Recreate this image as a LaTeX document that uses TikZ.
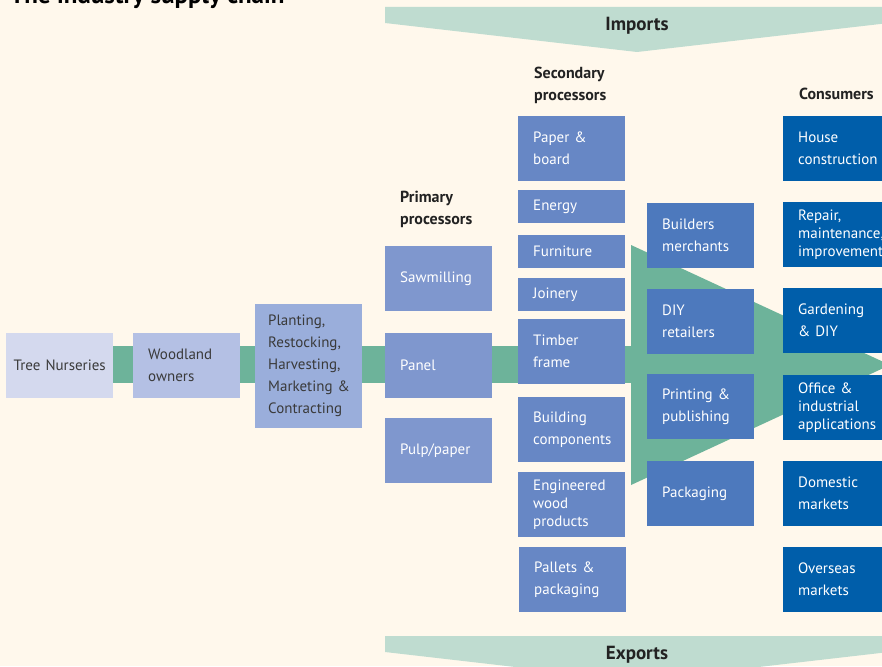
\documentclass[tikz,border=0pt]{standalone}
\usepackage{fontspec}
\setmainfont{PT Sans}
\usepackage{tikz}
\usetikzlibrary{positioning}
\definecolor{paper}{HTML}{FFF8EC}
\definecolor{flowgreen}{HTML}{6DB39A}
\definecolor{tradegreen}{HTML}{BFDCD0}
\definecolor{nurseryc}{HTML}{D4D9EE}
\definecolor{woodlandc}{HTML}{B4C0E4}
\definecolor{plantingc}{HTML}{9AAEDB}
\definecolor{primaryc}{HTML}{7F97CE}
\definecolor{secondaryc}{HTML}{6787C5}
\definecolor{merchantc}{HTML}{4D79BD}
\definecolor{consumerc}{HTML}{005EAA}
\definecolor{darktext}{HTML}{3A3A3A}
\definecolor{headtext}{HTML}{222222}
\tikzset{
	box/.style={rectangle,anchor=north west,text width=77pt,inner xsep=15pt,
		inner ysep=0pt,minimum height=65pt,align=left,text=white,
		font=\fontsize{15}{22}\selectfont},
	tight/.style={font=\fontsize{15}{18}\selectfont},
	thin box/.style={minimum height=33pt},
	nursery/.style={box,fill=nurseryc,text=darktext},
	woodland/.style={box,fill=woodlandc,text=darktext},
	planting/.style={box,fill=plantingc,text=darktext},
	primary/.style={box,fill=primaryc},
	secondary/.style={box,fill=secondaryc},
	merchant/.style={box,fill=merchantc},
	consumer/.style={box,fill=consumerc},
	head/.style={anchor=north west,inner sep=0pt,align=left,text=headtext,
		font=\bfseries\fontsize{16}{22}\selectfont},
	trade/.style={font=\bfseries\fontsize{19}{22}\selectfont,text=headtext,inner sep=0pt}
}

\begin{document}
\begin{tikzpicture}[x=1pt,y=-1pt]
	\useasboundingbox (0,0) rectangle (882,666);
	\clip (0,0) rectangle (882,666);
	\fill[paper] (0,0) rectangle (882,666);

	% imports / exports
	\fill[tradegreen] (385,7) -- (889,7) -- (889,23) -- (637,52) -- (385,23) -- cycle;
	\fill[tradegreen] (385,636) -- (889,636) -- (889,652) -- (637,681) -- (385,652) -- cycle;
	\node[trade] (imports) at (637,26) {Imports};
	\node[trade] (exports) at (637,655) {Exports};

	\node[anchor=base west,inner sep=0pt,text=black,font=\bfseries\fontsize{25}{28}\selectfont]
		(title) at (10,4) {The industry supply chain};

	% flow
	\fill[flowgreen] (113,346) rectangle (631,383);
	\fill[flowgreen] (631,245) -- (890,365) -- (631,485) -- cycle;

	% growers
	\node[nursery,align=center,inner xsep=4pt,text width=99pt] (nurseries) at (6,333) {Tree Nurseries};
	\node[woodland] (owners) at (133,333) {Woodland\\owners};
	\node[planting,minimum height=124pt,inner xsep=13pt,text width=81pt] (planting) at (255,304)
		{Planting,\\Restocking,\\Harvesting,\\\mbox{Marketing \&}\\Contracting};

	% primary processors
	\node[head] (primhead) at (400,191) {Primary\\processors};
	\node[primary] (sawmill) at (385,246) {Sawmilling};
	\node[primary] (panel) at (385,333) {Panel};
	\node[primary] (pulp) at (385,418) {Pulp/paper};

	% secondary processors
	\node[head] (sechead) at (534,67) {Secondary\\processors};
	\node[secondary] (board) at (518,116) {Paper \&\\board};
	\node[secondary,thin box] (energy) at (518,190) {Energy};
	\node[secondary,thin box] (furniture) at (518,235) {Furniture};
	\node[secondary,thin box] (joinery) at (518,278) {Joinery};
	\node[secondary] (frame) at (518,319) {Timber\\frame};
	\node[secondary] (components) at (518,397) {Building\\components};
	\node[secondary,tight] (engineered) at (518,472) {Engineered\\wood\\products};
	\node[secondary] (pallets) at (519,547) {Pallets \&\\packaging};

	% merchants
	\node[merchant] (builders) at (647,203) {Builders\\merchants};
	\node[merchant] (diy) at (647,289) {DIY\\retailers};
	\node[merchant] (printing) at (647,374) {Printing \&\\publishing};
	\node[merchant] (packaging) at (647,461) {Packaging};

	% consumers
	\node[head] (conhead) at (799,88) {Consumers};
	\node[consumer] (house) at (783,116) {House\\construction};
	\node[consumer,tight] (repair) at (783,202) {Repair,\\maintenance,\\improvement};
	\node[consumer] (garden) at (783,288) {Gardening\\\& DIY};
	\node[consumer,tight] (office) at (783,375) {Office \&\\industrial\\applications};
	\node[consumer] (domestic) at (783,461) {Domestic\\markets};
	\node[consumer] (overseas) at (783,547) {Overseas\\markets};
\end{tikzpicture}
\end{document}
